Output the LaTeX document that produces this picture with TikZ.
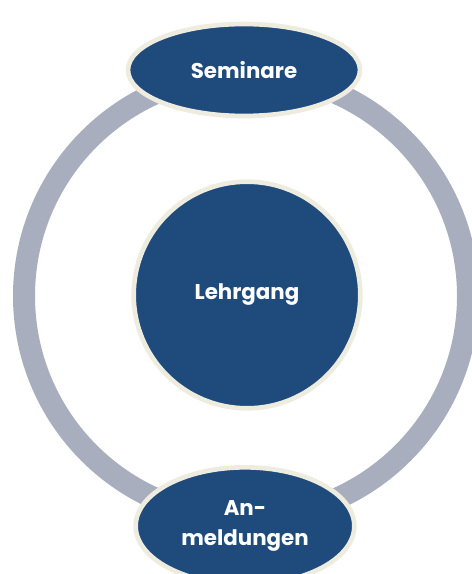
\documentclass[tikz,border=0pt]{standalone}
\usepackage{fontspec}
\setmainfont{Poppins}
\usetikzlibrary{shapes.geometric}
\definecolor{lgBlue}{RGB}{31,74,124}
\definecolor{lgRing}{RGB}{169,174,190}
\definecolor{lgCream}{RGB}{238,235,223}
\tikzset{every picture/.style={line width=0.75pt}}
\tikzset{
  lgblob/.style={draw=lgCream, fill=lgBlue, line width=3.5pt, text=white,
    font=\bfseries\fontsize{16}{22}\selectfont, align=center, inner sep=0pt}
}
\begin{document}
\begin{tikzpicture}[x=0.75pt,y=0.75pt,yscale=-1,xscale=1]
\useasboundingbox (0,0) rectangle (471,574);

%Shape: Ring
\coordinate (ringC) at (246,296);
\draw [color=lgRing, line width=16.5pt] (ringC) circle (222);

%Shape: Circle
\node (lehrgang) [lgblob, circle, minimum size=170pt] at (247,295) {Lehrgang};
%Shape: Ellipse
\node (seminare) [lgblob, ellipse, minimum width=174pt, minimum height=69pt] at (244,70) {Seminare};
%Shape: Ellipse
\node (anmeldung) [lgblob, ellipse, minimum width=164pt, minimum height=88pt] at (245,526) {An-\\meldungen};

\end{tikzpicture}
\end{document}
